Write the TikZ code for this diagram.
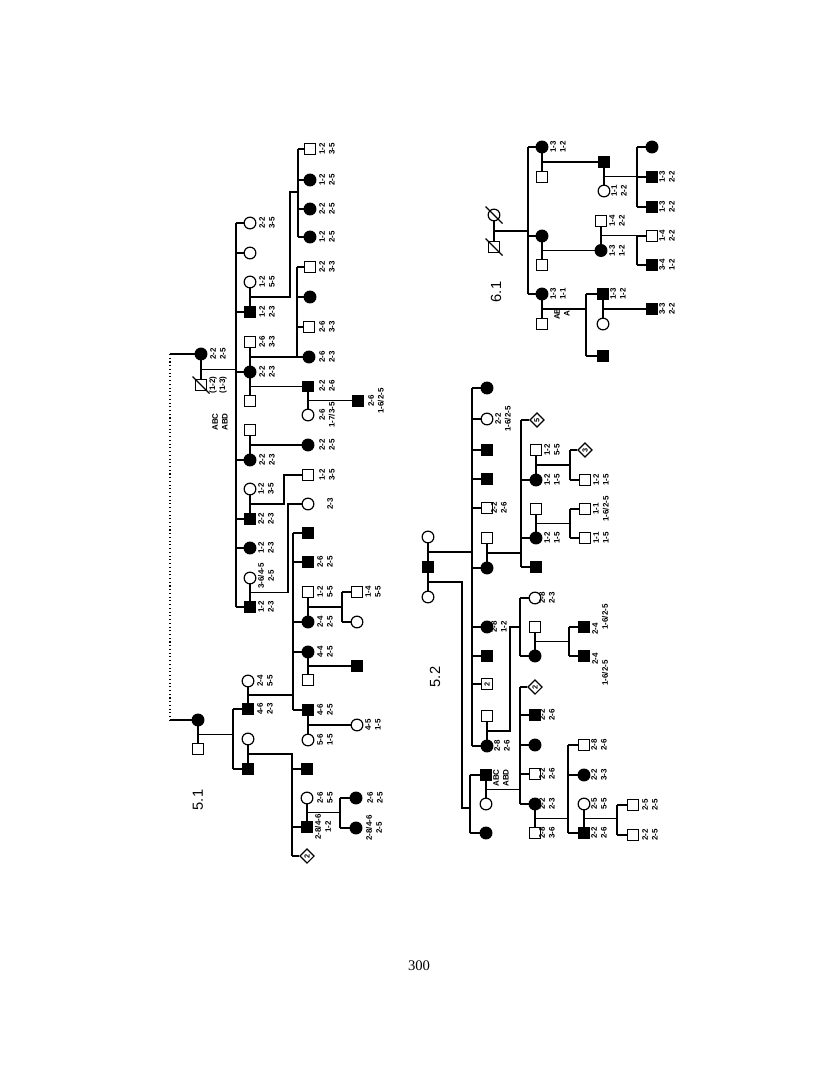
\documentclass[tikz,border=0pt]{standalone}
\usepackage{fontspec}
\setmainfont{Liberation Serif}
\newfontfamily\labfont{Liberation Sans}
\usetikzlibrary{shapes.geometric,calc}
\newcommand\sibstubs[2]{\foreach \n in {#2} {\draw (#1 |- \n) -- (\n);}}
\begin{document}
\begin{tikzpicture}[x=0.75pt,y=-0.75pt,line width=0.9pt,
  sq/.style={draw,rectangle,minimum size=8pt,inner sep=0pt,fill=white,line width=0.9pt},
  fsq/.style={sq,fill=black},
  ci/.style={draw,circle,minimum size=8.8pt,inner sep=0pt,fill=white,line width=0.9pt},
  fci/.style={ci,fill=black},
  dia/.style={draw,diamond,minimum width=11pt,minimum height=11pt,inner sep=0pt,fill=white,line width=0.9pt,rotate=90,font=\labfont\bfseries\fontsize{5.5}{5.5}\selectfont},
  nsq/.style={sq,rotate=90,font=\labfont\bfseries\fontsize{5.5}{5.5}\selectfont},
  lab/.style={rotate=90,align=center,inner sep=0pt,font=\labfont\bfseries\fontsize{6}{7.4}\selectfont},
  ttl/.style={rotate=90,inner sep=0pt,font=\labfont\fontsize{11}{11}\selectfont}
]
\useasboundingbox (0,0) rectangle (816,1081);
\fill[white] (0,0) rectangle (816,1081);

%%%%%%%%%%%%%%%% 5.1 %%%%%%%%%%%%%%%%
\node[fci] (A1) at (201,354) {};
\node[sq] (A2) at (201,385) {};
\draw (A2.center) ++(-8.5,-8.5) -- ++(17,17);
\node[lab] (lA1) at (218,354) {2-2\\2-5};
\node[lab] (lA2) at (218,385) {(1-2)\\(1-3)};
\node[lab] (abc1) at (220,422) {ABC\\ABD};
\draw (A1) -- (A2);
\coordinate (mA) at ($(A1)!.5!(A2)$);
\coordinate (L1) at (236,0);
\draw (mA) -- (mA -| L1);
\coordinate (dt) at (170,0);

\node[ci] (C1) at (250,223) {}; \node[lab] (lC1) at (267,223) {2-2\\3-5};
\node[ci] (C2) at (250,253) {};
\node[ci] (C3w) at (250,282) {}; \node[lab] (lC3w) at (267,282) {1-2\\5-5};
\node[fsq] (C3) at (250,312) {}; \node[lab] (lC3) at (267,312) {1-2\\2-3};
\node[sq] (C4a) at (250,342) {}; \node[lab] (lC4a) at (267,342) {2-6\\3-3};
\node[fci] (C4) at (250,372) {}; \node[lab] (lC4) at (267,372) {2-2\\2-3};
\node[sq] (C4b) at (250,401) {};
\node[sq] (C5w) at (250,430) {};
\node[fci] (C5) at (250,460) {}; \node[lab] (lC5) at (267,460) {2-2\\2-3};
\node[ci] (C6w) at (250,489) {}; \node[lab] (lC6w) at (266,489) {1-2\\3-5};
\node[fsq] (C6) at (250,519) {}; \node[lab] (lC6) at (266,519) {2-2\\2-3};
\node[fci] (C7) at (250,548) {}; \node[lab] (lC7) at (266,548) {1-2\\2-3};
\node[ci] (C8w) at (250,578) {}; \node[lab] (lC8w) at (266,576) {3-6/4-5\\2-5};
\node[fsq] (C8) at (250,607) {}; \node[lab] (lC8) at (266,607) {1-2\\2-3};
\draw (L1 |- C1) -- (L1 |- C8);
\sibstubs{L1}{C1,C2,C3,C4,C5,C6,C7,C8}
\draw (C3w) -- (C3); \draw (C4a) -- (C4); \draw (C4) -- (C4b);
\draw (C5w) -- (C5); \draw (C6w) -- (C6); \draw (C8w) -- (C8);

% gen III top
\coordinate (L2) at (298,0);
\coordinate (J2) at (290,192);
\node[sq] (D1) at (310,149) {}; \node[lab] (lD1) at (327,149) {1-2\\3-5};
\node[fci] (D2) at (310,180) {}; \node[lab] (lD2) at (327,180) {1-2\\2-5};
\node[fci] (D3) at (310,209) {}; \node[lab] (lD3) at (327,209) {2-2\\2-5};
\node[fci] (D4) at (310,237) {}; \node[lab] (lD4) at (327,237) {1-2\\2-5};
\draw (L2 |- D1) -- (L2 |- D4);
\sibstubs{L2}{D1,D2,D3,D4}
\coordinate (m3) at ($(C3w)!.5!(C3)$);
\draw (m3) -| (J2) -- (J2 -| L2);

\coordinate (L3) at (297,0);
\node[sq] (E1) at (310,267) {}; \node[lab] (lE1) at (327,267) {2-2\\3-3};
\node[fci] (E2) at (310,297) {};
\node[sq] (E3) at (309,327) {}; \node[lab] (lE3) at (327,327) {2-6\\3-3};
\node[fci] (E4) at (309,357) {}; \node[lab] (lE4) at (327,357) {2-6\\2-3};
\draw (L3 |- E1) -- (L3 |- E4);
\sibstubs{L3}{E1,E2,E3}
\coordinate (m4a) at ($(C4a)!.5!(C4)$);
\draw (m4a) -- (E4);

\coordinate (m4b) at ($(C4)!.5!(C4b)$);
\node[fsq] (E5) at (308,386.5) {}; \node[lab] (lE5) at (327,386) {2-2\\2-6};
\node[ci] (E5w) at (308,415) {}; \node[lab] (lE5w) at (327,415) {2-6\\1-7/3-5};
\draw (m4b) -- (E5); \draw (E5) -- (E5w);
\coordinate (m5) at ($(E5)!.5!(E5w)$);
\node[fsq] (F1) at (358,400.75) {}; \node[lab] (lF1) at (376,401) {2-6\\1-6/2-5};
\draw (m5) -- (F1);

\coordinate (m5w) at ($(C5w)!.5!(C5)$);
\node[fci] (E6) at (308,445) {}; \node[lab] (lE6) at (327,445) {2-2\\2-5};
\draw (m5w) -- (E6);

\coordinate (m6) at ($(C6w)!.5!(C6)$);
\coordinate (J6) at (284,475);
\node[sq] (E7) at (308,475) {}; \node[lab] (lE7) at (327,475) {1-2\\3-5};
\draw (m6) -| (J6) -- (E7);
\coordinate (m8) at ($(C8w)!.5!(C8)$);
\coordinate (J8) at (288,504);
\node[ci] (E8) at (308,504) {}; \node[lab] (lE8) at (330,504) {2-3};
\draw (m8) -| (J8) -- (E8);

% lower branch
\node[fci] (B1) at (198,720) {};
\node[sq] (B2) at (198,749) {};
\draw (B1) -- (B2);
\draw (A1) -- (A1 -| dt);
\draw[dotted,line width=0.8pt] (A1 -| dt) -- (B1 -| dt);
\draw (B1 -| dt) -- (B1);
\coordinate (mB) at ($(B1)!.5!(B2)$);
\coordinate (L4) at (233,0);
\draw (mB) -- (mB -| L4);
\node[ci] (G1w) at (248,681) {}; \node[lab] (lG1w) at (265,681) {2-4\\5-5};
\node[fsq] (G1) at (248,709) {}; \node[lab] (lG1) at (265,709) {4-6\\2-3};
\node[ci] (G2w) at (248,739) {};
\node[fsq] (G2) at (248,769) {};
\draw (L4 |- G1) -- (L4 |- G2);
\sibstubs{L4}{G1,G2}
\draw (G1w) -- (G1); \draw (G2w) -- (G2);

\coordinate (L5) at (293,0);
\coordinate (mG1) at ($(G1w)!.5!(G1)$);
\draw (mG1) -- (mG1 -| L5);
\node[fsq] (H1) at (308,533) {};
\node[fsq] (H2) at (308,562) {}; \node[lab] (lH2) at (325,562) {2-6\\2-5};
\node[sq] (H3w) at (308,592) {}; \node[lab] (lH3w) at (325,592) {1-2\\5-5};
\node[fci] (H3) at (308,622) {}; \node[lab] (lH3) at (325,622) {2-4\\2-5};
\node[fci] (H4) at (308,652) {}; \node[lab] (lH4) at (325,652) {4-4\\2-5};
\node[sq] (H4w) at (308,680) {};
\node[fsq] (H5) at (308,710) {}; \node[lab] (lH5) at (325,710) {4-6\\2-5};
\node[ci] (H5w) at (308,740) {}; \node[lab] (lH5w) at (325,740) {5-6\\1-5};
\draw (L5 |- H1) -- (L5 |- H5);
\sibstubs{L5}{H1,H2,H3,H4,H5}
\draw (H3w) -- (H3); \draw (H4) -- (H4w); \draw (H5) -- (H5w);

\coordinate (L6) at (342,0);
\coordinate (mH3) at ($(H3w)!.5!(H3)$);
\node[sq] (I1) at (357,592) {}; \node[lab] (lI1) at (373,592) {1-4\\5-5};
\node[ci] (I2) at (357,622) {};
\draw (L6 |- I1) -- (L6 |- I2);
\sibstubs{L6}{I1,I2}
\draw (mH3) -- (mH3 -| L6);
\coordinate (mH4) at ($(H4)!.5!(H4w)$);
\node[fsq] (I3) at (357,666) {};
\draw (mH4) -- (I3);
\coordinate (mH5) at ($(H5)!.5!(H5w)$);
\node[ci] (I4) at (357,725) {}; \node[lab] (lI4) at (373,725) {4-5\\1-5};
\draw (mH5) -- (I4);

\coordinate (L7) at (292,0);
\coordinate (mG2) at ($(G2w)!.5!(G2)$);
\node[fsq] (J1) at (307,769) {};
\node[ci] (J2w) at (307,798) {}; \node[lab] (lJ2w) at (325,798) {2-6\\5-5};
\node[fsq] (J2) at (307,827) {}; \node[lab] (lJ2) at (323,827) {2-8/4-6\\1-2};
\node[dia] (J3) at (307,856) {2};
\draw (mG2) -| (L7 |- J1);
\draw (L7 |- J1) -- (L7 |- J3);
\sibstubs{L7}{J1,J2,J3}
\draw (J2w) -- (J2);
\coordinate (L8) at (340,0);
\coordinate (mJ2) at ($(J2w)!.5!(J2)$);
\node[fci] (K1) at (356,798) {}; \node[lab] (lK1) at (375,798) {2-6\\2-5};
\node[fci] (K2) at (356,828) {}; \node[lab] (lK2) at (374,828) {2-8/4-6\\2-5};
\draw (L8 |- K1) -- (L8 |- K2);
\sibstubs{L8}{K1,K2}
\draw (mJ2) -- (mJ2 -| L8);
\node[ttl] (t51) at (198,800) {5.1};

%%%%%%%%%%%%%%%% 5.2 %%%%%%%%%%%%%%%%
\node[ci] (P1) at (428,537) {};
\node[fsq] (P2) at (428,567) {};
\node[ci] (P3) at (428,597) {};
\draw (P1) -- (P2); \draw (P2) -- (P3);
\coordinate (mP1) at ($(P1)!.5!(P2)$);
\coordinate (mP2) at ($(P2)!.5!(P3)$);
\coordinate (M1) at (472,0);
\draw (mP1) -- (mP1 -| M1);
\coordinate (M3) at (470,0);
\coordinate (JQ) at (462,808);
\node[fsq] (Q1) at (486,775) {}; \node[lab] (lQ1) at (501,778) {ABC\\ABD};
\node[ci] (Q1w) at (486,804) {};
\node[fci] (Q2) at (486,833) {};
\draw (mP2) -| (JQ) -- (JQ -| M3);
\draw (M3 |- Q1) -- (M3 |- Q2);
\sibstubs{M3}{Q1,Q2}
\draw (Q1) -- (Q1w);
\coordinate (mQ) at ($(Q1)!.5!(Q1w)$);

\node[fci] (R1) at (487,388) {};
\node[ci] (R2) at (487,419) {}; \node[lab] (lR2) at (503,419) {2-2\\1-6/2-5};
\node[fsq] (R3) at (487,450) {};
\node[fsq] (R4) at (487,479) {};
\node[sq] (R5) at (487,508) {}; \node[lab] (lR5) at (499,508) {2-2\\2-6};
\node[sq] (R6w) at (487,538) {};
\node[fci] (R6) at (487,568) {};
\node[fci] (R7) at (487,627) {}; \node[lab] (lR7) at (499,627) {2-8\\1-2};
\node[fsq] (R8) at (487,656) {};
\node[nsq] (R9) at (487,684) {2};
\node[sq] (R10w) at (487,716) {};
\node[fci] (R10) at (487,746) {}; \node[lab] (lR10) at (502,746) {2-8\\2-6};
\draw (M1 |- R1) -- (M1 |- R10);
\sibstubs{M1}{R1,R2,R3,R4,R5,R6,R7,R8,R9,R10}
\draw (R6w) -- (R6); \draw (R10w) -- (R10);

\coordinate (M4) at (521,0);
\coordinate (mR6) at ($(R6w)!.5!(R6)$);
\draw (mR6) -- (mR6 -| M4);
\node[dia] (S1) at (537,420) {5};
\node[sq] (S2w) at (536,450) {}; \node[lab] (lS2w) at (552,450) {1-2\\5-5};
\node[fci] (S2) at (536,480) {}; \node[lab] (lS2) at (552,480) {1-2\\1-5};
\node[sq] (S3w) at (536,509) {};
\node[fci] (S3) at (536,538) {}; \node[lab] (lS3) at (552,538) {1-2\\1-5};
\node[fsq] (S4) at (536,567) {};
\draw (M4 |- S1) -- (M4 |- S4);
\sibstubs{M4}{S1,S2,S3,S4}
\draw (S2w) -- (S2); \draw (S3w) -- (S3);
\coordinate (M5) at (570,0);
\coordinate (mS2) at ($(S2w)!.5!(S2)$);
\node[dia] (T1) at (585,450) {3};
\node[sq] (T2) at (585,480) {}; \node[lab] (lT2) at (601,480) {1-2\\1-5};
\draw (M5 |- T1) -- (M5 |- T2);
\sibstubs{M5}{T1,T2}
\draw (mS2) -- (mS2 -| M5);
\coordinate (mS3) at ($(S3w)!.5!(S3)$);
\node[sq] (T3) at (585,509) {}; \node[lab] (lT3) at (601,509) {1-1\\1-6/2-5};
\node[sq] (T4) at (585,538) {}; \node[lab] (lT4) at (601,538) {1-1\\1-5};
\draw (M5 |- T3) -- (M5 |- T4);
\sibstubs{M5}{T3,T4}
\draw (mS3) -- (mS3 -| M5);

\coordinate (M6) at (520,0);
\coordinate (mR10) at ($(R10w)!.5!(R10)$);
\coordinate (JR) at (510,627);
\draw (mR10) -| (JR) -- (JR -| M6);
\node[ci] (U1) at (535,598) {}; \node[lab] (lU1) at (547,598) {2-8\\2-3};
\node[sq] (U2w) at (535,627) {};
\node[fci] (U2) at (535,656) {};
\draw (M6 |- U1) -- (M6 |- U2);
\sibstubs{M6}{U1,U2}
\draw (U2w) -- (U2);
\coordinate (M7) at (569,0);
\coordinate (mU2) at ($(U2w)!.5!(U2)$);
\node[fsq] (V1) at (584,627) {};
\node[lab] (lV1a) at (595,629) {2-4}; \node[lab] (lV1b) at (605,617) {1-6/2-5};
\node[fsq] (V2) at (584,656) {};
\node[lab] (lV2a) at (595,659) {2-4}; \node[lab] (lV2b) at (605,673) {1-6/2-5};
\draw (M7 |- V1) -- (M7 |- V2);
\sibstubs{M7}{V1,V2}
\draw (mU2) -- (mU2 -| M7);

\coordinate (M8) at (520,0);
\node[dia] (W1) at (535,687) {2};
\node[fsq] (W2) at (535,715) {}; \node[lab] (lW2) at (547,715) {2-2\\2-6};
\node[fci] (W3) at (535,745) {};
\node[sq] (W4) at (535,774) {}; \node[lab] (lW4) at (547,774) {2-2\\2-6};
\node[fci] (W5) at (535,804) {}; \node[lab] (lW5) at (547,804) {2-2\\2-3};
\node[sq] (W5w) at (535,833) {}; \node[lab] (lW5w) at (547,833) {2-8\\3-6};
\draw (M8 |- W1) -- (M8 |- W5);
\sibstubs{M8}{W1,W2,W3,W4,W5}
\draw (mQ) -- (mQ -| M8);
\draw (W5) -- (W5w);
\coordinate (M9) at (568,0);
\coordinate (mW5) at ($(W5)!.5!(W5w)$);
\node[sq] (X1) at (584,745) {}; \node[lab] (lX1) at (599,745) {2-8\\2-6};
\node[fci] (X2) at (584,775) {}; \node[lab] (lX2) at (599,775) {2-2\\3-3};
\node[ci] (X3w) at (584,804) {}; \node[lab] (lX3w) at (599,804) {2-5\\5-5};
\node[fsq] (X3) at (584,833) {}; \node[lab] (lX3) at (599,833) {2-2\\2-6};
\draw (M9 |- X1) -- (M9 |- X3);
\sibstubs{M9}{X1,X2,X3}
\draw (mW5) -- (mW5 -| M9);
\draw (X3w) -- (X3);
\coordinate (M10) at (617,0);
\coordinate (mX3) at ($(X3w)!.5!(X3)$);
\node[sq] (Y1) at (633,805) {}; \node[lab] (lY1) at (650,805) {2-5\\2-5};
\node[sq] (Y2) at (633,835) {}; \node[lab] (lY2) at (650,835) {2-2\\2-5};
\draw (M10 |- Y1) -- (M10 |- Y2);
\sibstubs{M10}{Y1,Y2}
\draw (mX3) -- (mX3 -| M10);
\node[ttl] (t52) at (435,677) {5.2};

%%%%%%%%%%%%%%%% 6.1 %%%%%%%%%%%%%%%%
\node[ci] (Z1) at (494,215) {};
\draw (Z1.center) ++(-8.5,-8.5) -- ++(17,17);
\node[sq] (Z2) at (494,247) {};
\draw (Z2.center) ++(-8.5,-8.5) -- ++(17,17);
\draw (Z1) -- (Z2);
\coordinate (mZ) at ($(Z1)!.5!(Z2)$);
\coordinate (N1) at (528,0);
\draw (mZ) -- (mZ -| N1);
\node[fci] (a1) at (542,147) {}; \node[lab] (la1) at (558,147) {1-3\\1-2};
\node[sq] (a1w) at (542,177) {};
\node[fci] (a2) at (542,236) {};
\node[sq] (a2w) at (542,265) {};
\node[fci] (a3) at (542,294) {}; \node[lab] (la3) at (558,294) {1-3\\1-1};
\node[sq] (a3w) at (542,324) {};
\node[lab] (lab61) at (562,314) {AB\\A};
\draw (N1 |- a1) -- (N1 |- a3);
\sibstubs{N1}{a1,a2,a3}
\draw (a1) -- (a1w); \draw (a2) -- (a2w); \draw (a3) -- (a3w);

\coordinate (ma1) at ($(a1)!.5!(a1w)$);
\node[fsq] (b1) at (604,162) {};
\node[ci] (b1w) at (604,191) {}; \node[lab] (lb1w) at (619,191) {1-1\\2-2};
\draw (ma1) -- (b1); \draw (b1) -- (b1w);
\coordinate (N2) at (637,0);
\coordinate (mb1) at ($(b1)!.5!(b1w)$);
\node[fci] (c1) at (652,147) {};
\node[fsq] (c2) at (652,177) {}; \node[lab] (lc2) at (667,177) {1-3\\2-2};
\node[fsq] (c3) at (652,207) {}; \node[lab] (lc3) at (667,207) {1-3\\2-2};
\draw (N2 |- c1) -- (N2 |- c3);
\sibstubs{N2}{c1,c2,c3}
\draw (mb1) -- (mb1 -| N2);

\coordinate (ma2) at ($(a2)!.5!(a2w)$);
\node[sq] (b2w) at (601,221) {}; \node[lab] (lb2w) at (617,221) {1-4\\2-2};
\node[fci] (b2) at (601,250.5) {}; \node[lab] (lb2) at (617,251) {1-3\\1-2};
\draw (ma2) -- (b2); \draw (b2w) -- (b2);
\coordinate (mb2) at ($(b2w)!.5!(b2)$);
\node[sq] (c4) at (652,236) {}; \node[lab] (lc4) at (667,236) {1-4\\2-2};
\node[fsq] (c5) at (652,265) {}; \node[lab] (lc5) at (667,265) {3-4\\1-2};
\draw (N2 |- c4) -- (N2 |- c5);
\sibstubs{N2}{c4,c5}
\draw (mb2) -- (mb2 -| N2);

\coordinate (ma3) at ($(a3)!.5!(a3w)$);
\coordinate (N3) at (586,0);
\draw (ma3) -- (ma3 -| N3);
\node[fsq] (b3) at (603,294) {}; \node[lab] (lb3) at (618,294) {1-3\\1-2};
\node[ci] (b3w) at (603,324) {};
\node[fsq] (b4) at (603,356) {};
\draw (N3 |- b3) -- (N3 |- b4);
\sibstubs{N3}{b3,b4}
\draw (b3) -- (b3w);
\coordinate (mb3) at ($(b3)!.5!(b3w)$);
\node[fsq] (c6) at (652,309) {}; \node[lab] (lc6) at (667,309) {3-3\\2-2};
\draw (mb3) -- (c6);
\node[ttl] (t61) at (496,292) {6.1};

\node[font=\fontsize{11}{11}\selectfont] (pg) at (419,966) {300};
\end{tikzpicture}
\end{document}
